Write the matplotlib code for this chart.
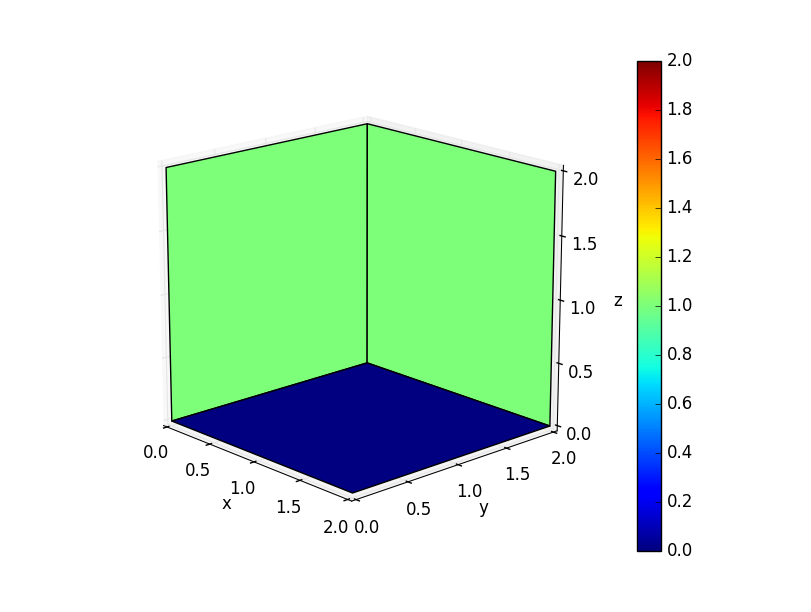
import numpy as np
import matplotlib
matplotlib.use("Agg")
import matplotlib.pyplot as plt
from matplotlib import cm
from matplotlib.colors import Normalize

plt.style.use("classic")
plt.rcParams["axes3d.automargin"] = True

# plane corners and the value that colours each plane
floor_x = [[0, 2], [0, 2]]
floor_y = [[0, 0], [2, 2]]
floor_z = [[0, 0], [0, 0]]
floor_val = 0.0

wall_x_x = [[0, 0], [0, 0]]
wall_x_y = [[0, 2], [0, 2]]
wall_x_z = [[0, 0], [2, 2]]
wall_x_val = 1.0

wall_y_x = [[0, 2], [0, 2]]
wall_y_y = [[2, 2], [2, 2]]
wall_y_z = [[0, 0], [2, 2]]
wall_y_val = 1.0

axis_ticks = [0.0, 0.5, 1.0, 1.5, 2.0]
cbar_ticks = [0.0, 0.2, 0.4, 0.6, 0.8, 1.0, 1.2, 1.4, 1.6, 1.8, 2.0]

norm = Normalize(vmin=0, vmax=2)
cmap = cm.jet


def draw_plane(ax, x, y, z, val):
    x, y, z = np.array(x), np.array(y), np.array(z)
    colors = np.full(x.shape + (4,), cmap(norm(val)))
    ax.plot_surface(x, y, z, facecolors=colors, rstride=1, cstride=1,
                    shade=False, edgecolor="k", linewidth=1, antialiased=True)


fig = plt.figure(figsize=(8.12, 6.12), dpi=100)
ax = fig.add_axes([0.125, 0.1025, 0.62, 0.8], projection="3d")
ax.view_init(elev=17.3, azim=-42.8)
ax.set_box_aspect((4, 4, 3.92), zoom=0.965)

draw_plane(ax, floor_x, floor_y, floor_z, floor_val)
draw_plane(ax, wall_x_x, wall_x_y, wall_x_z, wall_x_val)
draw_plane(ax, wall_y_x, wall_y_y, wall_y_z, wall_y_val)

ax.set_xlim(0, 2)
ax.set_ylim(0, 2)
ax.set_zlim(0, 2)
ax.set_xticks(axis_ticks)
ax.set_yticks(axis_ticks)
ax.set_zticks(axis_ticks)
ax.set_xlabel("x", labelpad=2)
ax.set_ylabel("y", labelpad=2)
ax.set_zlabel("z", labelpad=5)
for axis in (ax.xaxis, ax.yaxis, ax.zaxis):
    axis._axinfo["grid"].update(color=(0.9, 0.9, 0.9, 1), linewidth=0.8, linestyle="-")
ax.tick_params(labelsize=12, pad=2)

cax = fig.add_axes([637 / 812, 1 - 551 / 612, 24 / 812, 490 / 612])
sm = cm.ScalarMappable(norm=norm, cmap=cmap)
cb = fig.colorbar(sm, cax=cax, ticks=cbar_ticks)
cb.ax.tick_params(labelsize=12)

fig.savefig("out.png", dpi=100)
